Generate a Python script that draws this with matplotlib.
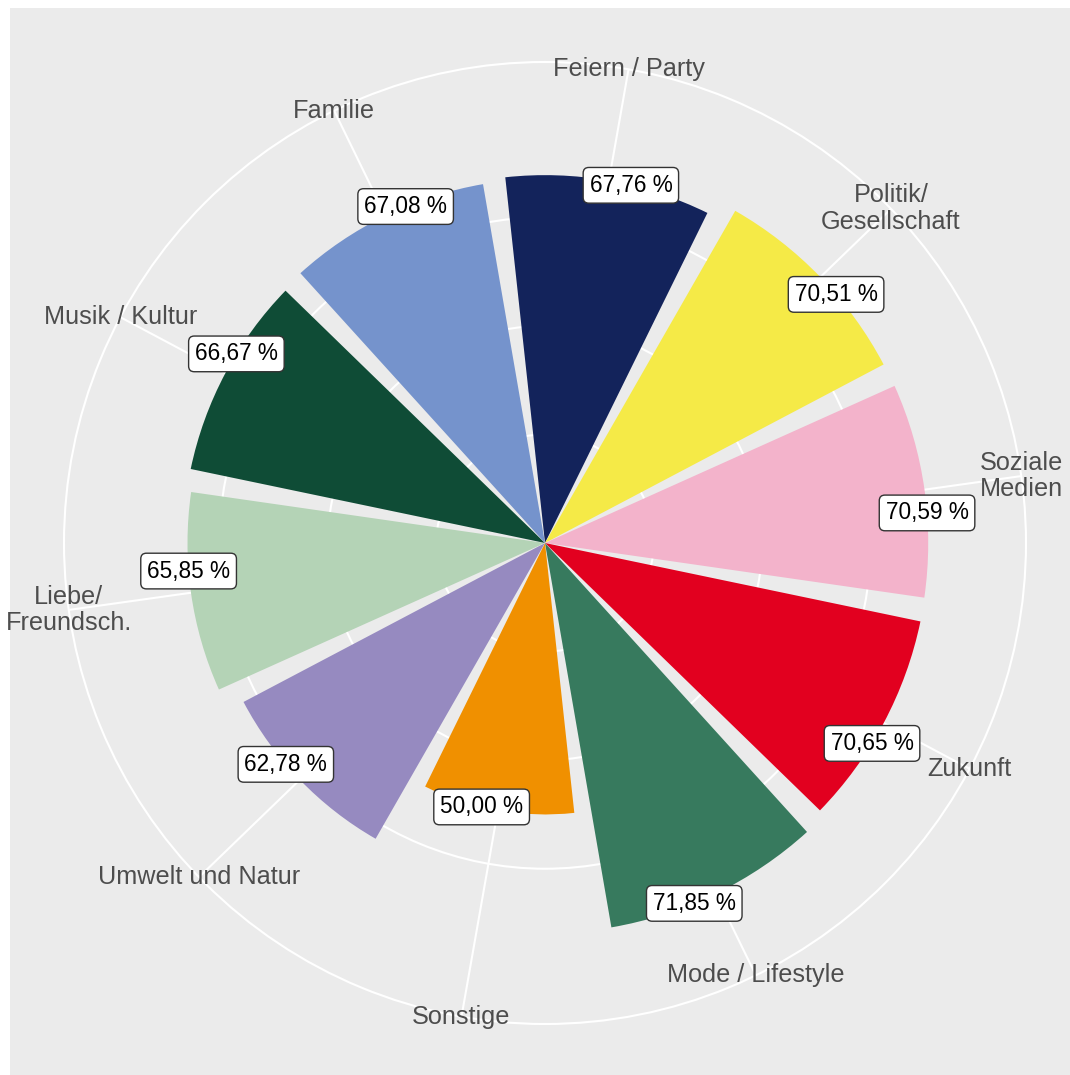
import numpy as np
import matplotlib
matplotlib.use("Agg")
import matplotlib.pyplot as plt
from matplotlib.patches import Rectangle

plt.rcParams['font.family'] = ['Liberation Sans', 'DejaVu Sans']

# ---- data ----
categories = ["Feiern / Party", "Politik/\nGesellschaft", "Soziale\nMedien", "Zukunft",
              "Mode / Lifestyle", "Sonstige", "Umwelt und Natur", "Liebe/\nFreundsch.",
              "Musik / Kultur", "Familie"]
values = [67.76, 70.51, 70.59, 70.65, 71.85, 50.00, 62.78, 65.85, 66.67, 67.08]
colors = ["#13235B", "#F5EA47", "#F3B3CB", "#E2001F", "#377A5E",
          "#F09000", "#968AC0", "#B4D3B6", "#0F4C36", "#7593CC"]
r_breaks = [20, 40, 60]

# ---- layout ----
W, H = 1070, 1075
fig = plt.figure(figsize=(W / 100, H / 100), dpi=100)
fig.patch.set_facecolor("white")
panel = Rectangle((10 / W, -0.01), 1.01 - 10 / W, (H - 8) / H + 0.01, transform=fig.transFigure,
                  facecolor="#EBEBEB", edgecolor="none", zorder=0)
fig.add_artist(panel)

cx, cy, R = 545, 543, 481
ax = fig.add_axes([(cx - R) / W, (H - cy - R) / H, 2 * R / W, 2 * R / H], projection="polar")
ax.patch.set_visible(False)
ax.set_theta_zero_location("N")
ax.set_theta_direction(-1)
rmax = 88.6
ax.set_ylim(0, rmax)

n = len(categories)
step = 360.0 / n
offset = 10.0
theta = np.radians(offset + step * np.arange(n))

# grid
ax.set_xticks(theta)
ax.set_xticklabels([])
ax.set_yticks(r_breaks)
ax.set_yticklabels([])
ax.grid(True, color="white", linewidth=1.5)
ax.spines["polar"].set_color("white")
ax.spines["polar"].set_linewidth(1.5)
ax.tick_params(length=0)

# bars
ax.bar(theta, values, width=np.radians(step * 0.9), color=colors, zorder=3, linewidth=0)

# value labels
for t, v in zip(theta, values):
    ax.text(t + np.radians(3.5), v, f"{v:.2f}".replace(".", ",") + " %",
            ha="center", va="center", fontsize=16.3, color="black", zorder=5,
            bbox=dict(boxstyle="round,pad=0.28,rounding_size=0.25", fc="white",
                      ec="#333333", lw=1.0))

# category labels
for t, c in zip(theta, categories):
    txt = ax.text(t, rmax, c, ha="center", va="center", fontsize=18.2, color="#4D4D4D",
                  multialignment="center", zorder=4, linespacing=1.15)
    txt.set_clip_path(panel)

fig.savefig("out.png", dpi=100)
